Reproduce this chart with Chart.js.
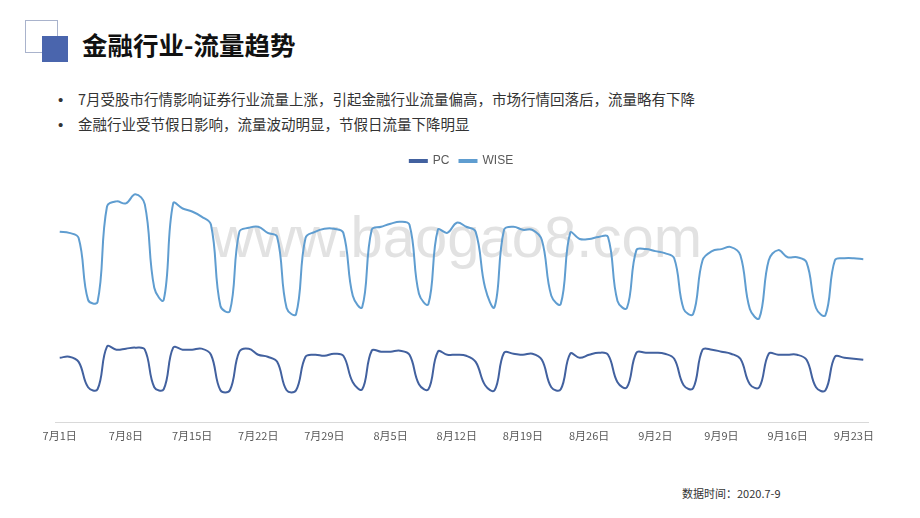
<!DOCTYPE html>
<html>
<head>
<meta charset="utf-8">
<script src="https://cdn.jsdelivr.net/npm/chart.js@4.4.1/dist/chart.umd.min.js"></script>
<style>
  body { margin: 0; background: #fff; font-family: "Noto Sans CJK SC", "Noto Sans", sans-serif; }
  #page { position: relative; width: 920px; height: 518px; overflow: hidden; }
  .sq1 { position: absolute; left: 25px; top: 20px; width: 31px; height: 31px; border: 1px solid #a9b3cc; }
  .sq2 { position: absolute; left: 42px; top: 36px; width: 26px; height: 26px; background: #4a65ad; }
  .title { position: absolute; left: 82px; top: 25px; font-size: 25.5px; font-weight: bold; color: #111; }
  .bullets { position: absolute; left: 58px; top: 88px; font-size: 14.5px; color: #333; margin: 0; padding: 0; list-style: none; }
  .bullets li { height: 25px; line-height: 22px; }
  .bullets li span { display: inline-block; width: 20px; font-family: "Liberation Sans", Arial, sans-serif; font-size: 15px; }
  .mark { position: absolute; left: 212px; top: 203px; font-family: "Liberation Sans", Arial, sans-serif; font-size: 58px; color: rgba(190,190,190,0.45); }
  .note { position: absolute; left: 682px; top: 485px; font-size: 11px; color: #333; }
  #wrap { position: absolute; left: 0; top: 145px; width: 920px; height: 305px; }
</style>
</head>
<body>
<div id="page">
  <div class="sq1"></div>
  <div class="sq2"></div>
  <div class="title">金融行业-流量趋势</div>
  <ul class="bullets">
    <li><span>•</span>7月受股市行情影响证券行业流量上涨，引起金融行业流量偏高，市场行情回落后，流量略有下降</li>
    <li><span>•</span>金融行业受节假日影响，流量波动明显，节假日流量下降明显</li>
  </ul>
  <div class="mark">www.baogao8.com</div>
  <div id="wrap"><canvas id="flowChart"></canvas></div>
  <div class="note">数据时间：2020.7-9</div>
</div>
<script>
// daily categories, 2020-07-01 .. 2020-09-24
const months = [7, 8, 9];
const monthDays = [31, 31, 24];
const days = [];
months.forEach((m, i) => {
  for (let d = 1; d <= monthDays[i]; d++) days.push(m + "月" + d + "日");
});

// relative traffic
const pcValues = [
  64, 65, 60, 35, 33, 75, 72, 73, 74, 72, 35, 33, 74, 72, 72, 73, 67, 32, 32, 70,
  73, 67, 65, 60, 32, 32, 65, 67, 66, 68, 66, 40, 33, 71, 70, 70, 71, 67, 38, 33,
  70, 67, 67, 66, 60, 37, 32, 69, 68, 67, 68, 62, 35, 33, 68, 64, 67, 69, 67, 40,
  35, 69, 69, 69, 68, 63, 37, 34, 72, 72, 70, 68, 63, 38, 35, 68, 67, 67, 67, 62,
  35, 32, 65, 64, 63, 62
];
const wiseValues = [
  188, 187, 182, 121, 119, 213, 218, 216, 225, 215, 133, 121, 216, 211, 208, 203, 195, 115, 110, 188,
  192, 193, 187, 183, 113, 107, 182, 188, 191, 191, 187, 125, 114, 190, 193, 196, 198, 195, 127, 117,
  190, 187, 197, 193, 188, 133, 114, 190, 193, 190, 190, 180, 125, 117, 187, 181, 181, 183, 183, 120,
  113, 170, 171, 169, 167, 162, 112, 107, 160, 169, 171, 173, 165, 112, 103, 160, 170, 163, 163, 158,
  113, 106, 160, 162, 162, 161
];

const pcColor = "#42619f";
const wiseColor = "#5f9dd0";

const ctx = document.getElementById("flowChart").getContext("2d");
new Chart(ctx, {
  type: "line",
  data: {
    labels: days,
    datasets: [
      {
        label: "PC",
        data: pcValues,
        borderColor: pcColor,
        backgroundColor: pcColor,
        borderWidth: 2,
        pointRadius: 0,
        tension: 0.4,
      },
      {
        label: "WISE",
        data: wiseValues,
        borderColor: wiseColor,
        backgroundColor: wiseColor,
        borderWidth: 2,
        pointRadius: 0,
        tension: 0.4,
      },
    ],
  },
  options: {
    responsive: true,
    maintainAspectRatio: false,
    animation: false,
    layout: { padding: { left: 55, right: 52, top: 0, bottom: 2 } },
    plugins: {
      tooltip: { enabled: false },
      legend: {
        position: "top",
        labels: {
          boxWidth: 17,
          boxHeight: 2,
          padding: 10,
          color: "#595959",
          font: { family: "'Liberation Sans', Arial, sans-serif", size: 12 },
        },
      },
    },
    scales: {
      x: {
        offset: true,
        grid: { display: false, drawTicks: false },
        border: { color: "#d9d9d9", width: 1 },
        ticks: {
          autoSkip: false,
          maxRotation: 0,
          padding: 6,
          color: "#595959",
          font: { family: "'Noto Sans CJK SC', sans-serif", size: 11 },
          callback: function (value, index) {
            return index % 7 === 0 ? days[index] : "";
          },
        },
      },
      y: {
        display: false,
        min: 0,
        max: 242,
      },
    },
  },
});
</script>
</body>
</html>
